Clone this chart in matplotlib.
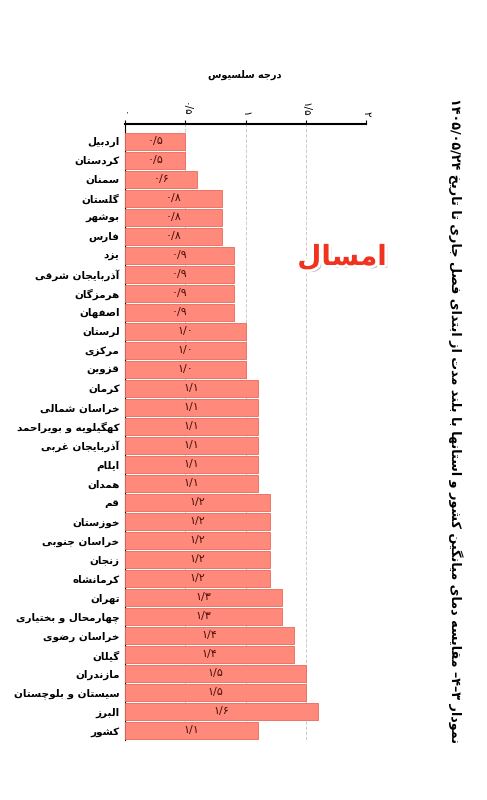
import matplotlib
matplotlib.use("Agg")
import matplotlib.pyplot as plt
import matplotlib.patheffects as pe

provinces = ["اردبیل", "کردستان", "سمنان", "گلستان", "بوشهر", "فارس", "یزد", "آذربایجان شرقی",
             "هرمزگان", "اصفهان", "لرستان", "مرکزی", "قزوین", "کرمان", "خراسان شمالی",
             "کهگیلویه و بویراحمد", "آذربایجان غربی", "ایلام", "همدان", "قم", "خوزستان",
             "خراسان جنوبی", "زنجان", "کرمانشاه", "تهران", "چهارمحال و بختیاری", "خراسان رضوی",
             "گیلان", "مازندران", "سیستان و بلوچستان", "البرز", "کشور"]
values = [0.5, 0.5, 0.6, 0.8, 0.8, 0.8, 0.9, 0.9, 0.9, 0.9, 1.0, 1.0, 1.0, 1.1, 1.1, 1.1,
          1.1, 1.1, 1.1, 1.2, 1.2, 1.2, 1.2, 1.2, 1.3, 1.3, 1.4, 1.4, 1.5, 1.5, 1.6, 1.1]
xticks = [0, 0.5, 1, 1.5, 2]
title = "نمودار ۳–۴– مقایسه دمای میانگین کشور و استانها با بلند مدت از ابتدای فصل جاری تا تاریخ ۱۴۰۵/۰۵/۲۴"
unit = "درجه سلسیوس"
badge = "امسال"

# ---- minimal Arabic/Persian shaping ----
F = {
 'ا': (0xFE8D, 0xFE8E, None, None), 'آ': (0xFE81, 0xFE82, None, None),
 'ب': (0xFE8F, 0xFE90, 0xFE91, 0xFE92), 'پ': (0xFB56, 0xFB57, 0xFB58, 0xFB59),
 'ت': (0xFE95, 0xFE96, 0xFE97, 0xFE98), 'ث': (0xFE99, 0xFE9A, 0xFE9B, 0xFE9C),
 'ج': (0xFE9D, 0xFE9E, 0xFE9F, 0xFEA0), 'چ': (0xFB7A, 0xFB7B, 0xFB7C, 0xFB7D),
 'ح': (0xFEA1, 0xFEA2, 0xFEA3, 0xFEA4), 'خ': (0xFEA5, 0xFEA6, 0xFEA7, 0xFEA8),
 'د': (0xFEA9, 0xFEAA, None, None), 'ذ': (0xFEAB, 0xFEAC, None, None),
 'ر': (0xFEAD, 0xFEAE, None, None), 'ز': (0xFEAF, 0xFEB0, None, None),
 'ژ': (0xFB8A, 0xFB8B, None, None),
 'س': (0xFEB1, 0xFEB2, 0xFEB3, 0xFEB4), 'ش': (0xFEB5, 0xFEB6, 0xFEB7, 0xFEB8),
 'ص': (0xFEB9, 0xFEBA, 0xFEBB, 0xFEBC), 'ض': (0xFEBD, 0xFEBE, 0xFEBF, 0xFEC0),
 'ط': (0xFEC1, 0xFEC2, 0xFEC3, 0xFEC4), 'ظ': (0xFEC5, 0xFEC6, 0xFEC7, 0xFEC8),
 'ع': (0xFEC9, 0xFECA, 0xFECB, 0xFECC), 'غ': (0xFECD, 0xFECE, 0xFECF, 0xFED0),
 'ف': (0xFED1, 0xFED2, 0xFED3, 0xFED4), 'ق': (0xFED5, 0xFED6, 0xFED7, 0xFED8),
 'ک': (0xFB8E, 0xFB8F, 0xFB90, 0xFB91), 'گ': (0xFB92, 0xFB93, 0xFB94, 0xFB95),
 'ل': (0xFEDD, 0xFEDE, 0xFEDF, 0xFEE0), 'م': (0xFEE1, 0xFEE2, 0xFEE3, 0xFEE4),
 'ن': (0xFEE5, 0xFEE6, 0xFEE7, 0xFEE8), 'و': (0xFEED, 0xFEEE, None, None),
 'ه': (0xFEE9, 0xFEEA, 0xFEEB, 0xFEEC), 'ی': (0xFBFC, 0xFBFD, 0xFBFE, 0xFBFF),
 'ئ': (0xFE89, 0xFE8A, 0xFE8B, 0xFE8C),
}

def shape(s):
    out = []
    n = len(s)
    for i, c in enumerate(s):
        if c not in F:
            out.append(c); continue
        prev = s[i-1] if i > 0 else None
        nxt = s[i+1] if i < n-1 else None
        jp = prev in F and F[prev][2] is not None
        jn = nxt in F and F[c][2] is not None
        iso, fin, ini, med = F[c]
        if jp and jn: out.append(chr(med))
        elif jp: out.append(chr(fin))
        elif jn: out.append(chr(ini))
        else: out.append(chr(iso))
    r = ''.join(out)[::-1]
    res, buf = [], []
    digs = set('۰۱۲۳۴۵۶۷۸۹0123456789/')
    for ch in r:
        if ch in digs: buf.append(ch)
        else:
            if buf: res.append(''.join(buf[::-1])); buf = []
            res.append(ch)
    if buf: res.append(''.join(buf[::-1]))
    return ''.join(res)

def fa_num(v):
    s = f"{v:.1f}".replace('.', '/')
    return s.translate(str.maketrans('0123456789', '۰۱۲۳۴۵۶۷۸۹'))

plt.rcParams['font.family'] = ['DejaVu Sans']
fig = plt.figure(figsize=(4.87, 8.0), dpi=100)
ax = fig.add_axes([0.257, 0.075, 0.495, 0.770])
y = list(range(len(provinces)))
ax.barh(y, values, height=0.9, color='#FF8A7C', edgecolor='#E8685C', linewidth=0.6, zorder=3)
for yi, v in zip(y, values):
    ax.text(v / 2, yi, fa_num(v), ha='center', va='center', fontsize=8, color='#4a1008', zorder=4)
ax.set_ylim(len(provinces) - 0.5, -0.9)
ax.set_xlim(0, 2)
ax.set_yticks(y)
ax.set_yticklabels([shape(p) for p in provinces], fontsize=7.5, fontweight='bold')
ax.tick_params(axis='y', length=0, pad=4)
ax.xaxis.tick_top()
ax.set_xticks(xticks)
ax.set_xticklabels([fa_num(t).replace('/۰', '') if t == int(t) else fa_num(t) for t in xticks],
                   fontsize=7.5, rotation=-90)
ax.tick_params(axis='x', length=3, pad=2)
ax.grid(axis='x', color='#cccccc', linestyle='--', linewidth=0.7, zorder=0)
for s in ['right', 'bottom']:
    ax.spines[s].set_visible(False)
ax.spines['top'].set_linewidth(1.5)
ax.spines['left'].set_linewidth(0.8)

fig.text(245/487, 1 - 75/800, shape(unit), ha='center', va='center', fontsize=7, fontweight='bold')
fig.text(455/487, 1 - 420/800, shape(title), ha='center', va='center', rotation=-90,
         fontsize=9.2, fontweight='bold')
fig.text(342/487, 1 - 257/800, shape(badge), ha='center', va='center', fontsize=20,
         fontweight='bold', color='#F0321E',
         path_effects=[pe.withSimplePatchShadow(offset=(2, -2), shadow_rgbFace='#888888', alpha=0.6),
                       pe.withStroke(linewidth=4, foreground='white')])
fig.savefig('out.png', dpi=100)
